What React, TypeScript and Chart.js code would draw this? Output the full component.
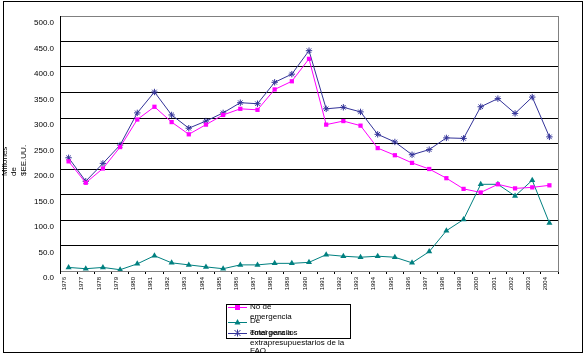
import React, { useEffect, useRef } from "react";
import { Chart, registerables } from "chart.js";

Chart.register(...registerables);

const years = [
  "1976", "1977", "1978", "1979", "1980", "1981", "1982", "1983", "1984", "1985",
  "1986", "1987", "1988", "1989", "1990", "1991", "1992", "1993", "1994", "1995",
  "1996", "1997", "1998", "1999", "2000", "2001", "2002", "2003", "2004",
];

const noEmergencia = [
  215, 173, 201, 243, 297, 322, 292, 268, 287, 306,
  318, 316, 356, 372, 416, 287, 294, 285, 241, 227,
  212, 200, 182, 161, 154, 170, 162, 164, 168,
];

const deEmergencia = [
  7, 4.5, 7, 2.5, 14, 30, 16, 12, 8, 4.5,
  12, 12, 15, 15, 17, 32, 29, 27, 29, 27,
  16, 38, 79, 101, 170, 170, 147, 178, 94,
];

const totalFAO = [
  222, 176, 211, 247, 310, 351, 306, 280, 294, 310,
  330, 328, 370, 386, 432, 318, 321, 312, 268, 253,
  228, 238, 261, 260, 322, 338, 309, 341, 263,
];

const yTitleLines = ["Millones", "de", "$EE.UU."];

const legendItems = [
  { lines: ["No de", "emergencia"], color: "#FF00FF", style: "rect" },
  { lines: ["De", "emergencia"], color: "#008080", style: "triangle" },
  { lines: ["Total para los", "extrapresupuestarios de la", "FAO"], color: "#333399", style: "star" },
];

const FONT = '"Liberation Sans", Arial, sans-serif';

const decorPlugin = {
  id: "decor",
  beforeDraw(chart: any) {
    const ctx = chart.ctx;
    ctx.save();
    ctx.fillStyle = "#ffffff";
    ctx.fillRect(0, 0, chart.width, chart.height);
    ctx.restore();
  },
  afterDraw(chart: any) {
    const ctx = chart.ctx;
    const ca = chart.chartArea;
    ctx.save();
    ctx.strokeStyle = "#808080";
    ctx.lineWidth = 1;
    ctx.beginPath();
    ctx.moveTo(Math.round(ca.right) + 0.5, ca.top);
    ctx.lineTo(Math.round(ca.right) + 0.5, ca.bottom);
    ctx.stroke();

    ctx.strokeStyle = "#000000";
    ctx.strokeRect(3.5, 1.5, 579, 351);

    ctx.fillStyle = "#000000";
    ctx.font = "8px " + FONT;
    ctx.textBaseline = "middle";
    ctx.textAlign = "left";
    const xs = [5, 14, 24];
    yTitleLines.forEach((t, i) => {
      ctx.save();
      ctx.translate(xs[i], 176);
      ctx.rotate(-Math.PI / 2);
      ctx.fillText(t, 0, 0);
      ctx.restore();
    });

    ctx.strokeStyle = "#000000";
    ctx.strokeRect(226.5, 304.5, 124, 34);
    const markerY = [307, 322, 333];
    const lineYs = [[307, 317], [321, 333], [333, 343, 351]];
    legendItems.forEach((it, i) => {
      const y = markerY[i];
      ctx.strokeStyle = it.color;
      ctx.fillStyle = it.color;
      ctx.lineWidth = 1;
      ctx.beginPath();
      ctx.moveTo(228, y + 0.5);
      ctx.lineTo(247, y + 0.5);
      ctx.stroke();
      const cx = 237.5;
      if (it.style === "rect") {
        ctx.fillRect(cx - 2.5, y - 2, 5, 5);
      } else if (it.style === "triangle") {
        ctx.beginPath();
        ctx.moveTo(cx, y - 3);
        ctx.lineTo(cx + 3, y + 2.5);
        ctx.lineTo(cx - 3, y + 2.5);
        ctx.closePath();
        ctx.fill();
      } else {
        ctx.beginPath();
        ctx.moveTo(cx - 3, y - 3);
        ctx.lineTo(cx + 3, y + 3);
        ctx.moveTo(cx + 3, y - 3);
        ctx.lineTo(cx - 3, y + 3);
        ctx.moveTo(cx, y - 3.5);
        ctx.lineTo(cx, y + 3.5);
        ctx.stroke();
      }
      ctx.fillStyle = "#000000";
      ctx.font = "8px " + FONT;
      ctx.textAlign = "left";
      ctx.textBaseline = "middle";
      it.lines.forEach((ln, j) => {
        ctx.fillText(ln, 250, lineYs[i][j]);
      });
    });
    ctx.restore();
  },
};

export default function App() {
  const ref = useRef<HTMLCanvasElement | null>(null);

  useEffect(() => {
    if (!ref.current) return;
    const chart = new Chart(ref.current, {
      type: "line",
      data: {
        labels: years,
        datasets: [
          {
            label: "No de emergencia",
            data: noEmergencia,
            borderColor: "#FF00FF",
            backgroundColor: "#FF00FF",
            borderWidth: 1,
            pointStyle: "rect",
            pointRadius: 3,
            pointBorderWidth: 0,
            tension: 0,
          },
          {
            label: "De emergencia",
            data: deEmergencia,
            borderColor: "#008080",
            backgroundColor: "#008080",
            borderWidth: 1,
            pointStyle: "triangle",
            pointRadius: 3.5,
            pointBorderWidth: 0,
            tension: 0,
          },
          {
            label: "Total para los extrapresupuestarios de la FAO",
            data: totalFAO,
            borderColor: "#333399",
            backgroundColor: "#333399",
            borderWidth: 1,
            pointStyle: "star",
            pointRadius: 3.2,
            pointBorderWidth: 1,
            tension: 0,
          },
        ],
      },
      options: {
        responsive: false,
        animation: false,
        devicePixelRatio: 1,
        layout: { padding: { left: 0, top: 16, right: 27, bottom: 0 } },
        plugins: {
          legend: { display: false },
          tooltip: { enabled: false },
        },
        scales: {
          x: {
            type: "category",
            offset: true,
            grid: {
              display: true,
              drawOnChartArea: false,
              drawTicks: true,
              tickLength: 3,
              color: "#000000",
              offset: true,
            },
            border: { display: true, color: "#808080" },
            ticks: {
              autoSkip: false,
              maxRotation: 90,
              minRotation: 90,
              padding: 3,
              labelOffset: -4,
              color: "#000000",
              font: { family: FONT, size: 6 },
            },
            afterFit(scale: any) {
              scale.height = 88;
            },
          },
          y: {
            min: 0,
            max: 500,
            grid: {
              drawTicks: false,
              color: (c: any) =>
                c.tick && (c.tick.value === 0 || c.tick.value === 500) ? "#808080" : "#000000",
              lineWidth: 1,
            },
            border: { display: true, color: "#000000" },
            ticks: {
              stepSize: 50,
              padding: 6,
              labelOffset: 7,
              color: "#000000",
              font: { family: FONT, size: 8 },
              callback: (v: any) => Number(v).toFixed(1),
            },
            afterFit(scale: any) {
              scale.width = 60;
            },
          },
        },
      },
      plugins: [decorPlugin],
    });
    return () => chart.destroy();
  }, []);

  return (
    <div style={{ position: "absolute", left: 0, top: 0, width: 585, height: 359 }}>
      <canvas ref={ref} width={585} height={359} style={{ width: 585, height: 359, display: "block" }} />
    </div>
  );
}
